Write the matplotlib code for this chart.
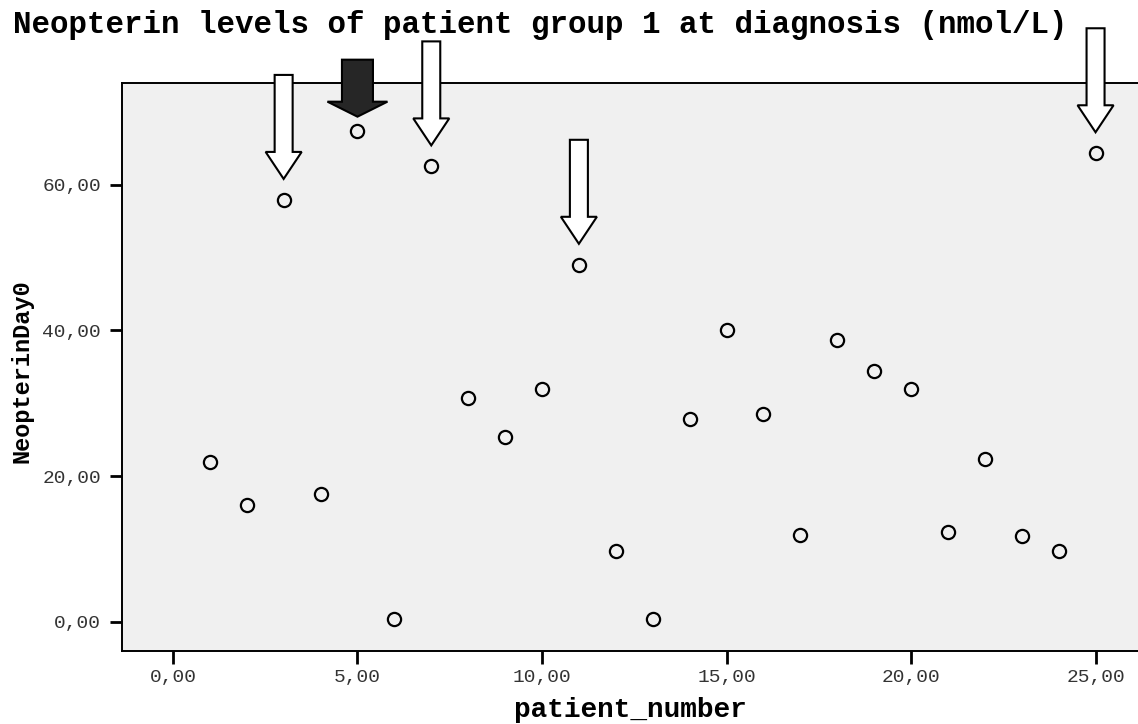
import matplotlib
matplotlib.use('Agg')
import matplotlib.pyplot as plt
import matplotlib.transforms as mtransforms
from matplotlib.patches import Polygon
from matplotlib.ticker import FuncFormatter

# data
patient_number = list(range(1, 26))
neopterin_day0 = [21.9, 16.0, 57.9, 17.6, 67.4, 0.4, 62.5, 30.7, 25.4, 32.0,
                  49.0, 9.7, 0.4, 27.8, 40.0, 28.5, 11.9, 38.7, 34.4, 32.0,
                  12.3, 22.4, 11.8, 9.7, 64.3]
hollow_arrow_patients = [3, 7, 11, 25]
filled_arrow_patients = [5]
x_ticks = [0, 5, 10, 15, 20, 25]
y_ticks = [0, 20, 40, 60]

title = 'Neopterin levels of patient group 1 at diagnosis (nmol/L)'
x_label = 'patient_number'
y_label = 'NeopterinDay0'

W, H = 1138, 724
mono = ['Liberation Mono', 'DejaVu Sans Mono']

fig = plt.figure(figsize=(W / 100, H / 100), dpi=100)
ax = fig.add_axes([122 / W, (H - 651) / H, (W - 122) / W, (651 - 83) / H])
ax.set_facecolor('#f0f0f0')
ax.set_xlim(-1.38, 26.15)
ax.set_ylim(-3.98, 73.94)

ax.plot(patient_number, neopterin_day0, linestyle='none', marker='o',
        markersize=9.5, markerfacecolor='none', markeredgecolor='black',
        markeredgewidth=1.6, zorder=3)

for side in ['left', 'bottom', 'top']:
    ax.spines[side].set_linewidth(1.4)
ax.spines['right'].set_visible(False)

ax.set_xticks(x_ticks)
ax.set_yticks(y_ticks)
fmt = FuncFormatter(lambda v, pos: f'{v:.2f}'.replace('.', ','))
ax.xaxis.set_major_formatter(fmt)
ax.yaxis.set_major_formatter(fmt)
ax.tick_params(axis='both', direction='out', length=9, width=2, labelsize=14,
               labelcolor='#333333', pad=6)
ax.tick_params(axis='x', pad=4)
for lab in ax.get_xticklabels() + ax.get_yticklabels():
    lab.set_family(mono)


def draw_arrow(x, y, gap, head_len, head_half, shaft_half, length, face):
    verts = [(0, gap), (head_half, gap + head_len), (shaft_half, gap + head_len),
             (shaft_half, gap + length), (-shaft_half, gap + length),
             (-shaft_half, gap + head_len), (-head_half, gap + head_len)]
    trans = mtransforms.Affine2D() + mtransforms.ScaledTranslation(x, y, ax.transData)
    poly = Polygon(verts, closed=True, facecolor=face, edgecolor='black',
                   linewidth=1.5, transform=trans, clip_on=False, zorder=5)
    fig.add_artist(poly)


for p in hollow_arrow_patients:
    val = neopterin_day0[patient_number.index(p)]
    draw_arrow(p, val, 21, 27, 18, 9, 104, 'white')
for p in filled_arrow_patients:
    val = neopterin_day0[patient_number.index(p)]
    draw_arrow(p, val, 14, 15, 30, 15.5, 57, '#262626')

fig.text(540 / W, 1 - 33 / H, title, ha='center', va='baseline',
         fontsize=22.2, fontweight='bold', family=mono)
fig.text(630 / W, 1 - 717 / H, x_label, ha='center', va='baseline',
         fontsize=20, fontweight='bold', family=mono)
fig.text(22 / W, 1 - 371 / H, y_label, ha='center', va='center', rotation=90,
         fontsize=17, fontweight='bold', family=mono)

fig.savefig('out.png', dpi=100)
